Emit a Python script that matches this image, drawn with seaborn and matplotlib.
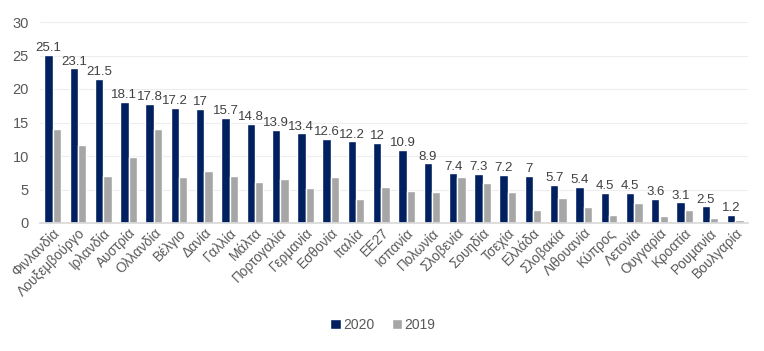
import matplotlib
matplotlib.use("Agg")
import matplotlib.pyplot as plt
import seaborn as sns
import pandas as pd

countries = ["Φινλανδία", "Λουξεμβούργο", "Ιρλανδία", "Αυστρία", "Ολλανδία", "Βέλγιο",
             "Δανία", "Γαλλία", "Μάλτα", "Πορτογαλία", "Γερμανία", "Εσθονία", "Ιταλία",
             "ΕΕ27", "Ισπανία", "Πολωνία", "Σλοβενία", "Σουηδία", "Τσεχία", "Ελλάδα",
             "Σλοβακία", "Λιθουανία", "Κύπρος", "Λετονία", "Ουγγαρία", "Κροατία",
             "Ρουμανία", "Βουλγαρία"]
values_2020 = [25.1, 23.1, 21.5, 18.1, 17.8, 17.2, 17, 15.7, 14.8, 13.9, 13.4, 12.6, 12.2,
               12, 10.9, 8.9, 7.4, 7.3, 7.2, 7, 5.7, 5.4, 4.5, 4.5, 3.6, 3.1, 2.5, 1.2]
values_2019 = [14.1, 11.6, 7.0, 9.9, 14.1, 6.9, 7.8, 7.0, 6.1, 6.5, 5.2, 6.8, 3.6,
               5.4, 4.8, 4.6, 6.8, 5.9, 4.6, 1.9, 3.7, 2.4, 1.25, 3.0, 1.1, 1.9, 0.75, 0.5]
series = ["2020", "2019"]
colors = ["#002060", "#A6A6A6"]
yticks = [0, 5, 10, 15, 20, 25, 30]

df = pd.DataFrame({
    "country": countries * 2,
    "value": values_2020 + values_2019,
    "year": [series[0]] * len(countries) + [series[1]] * len(countries),
})

sns.set_theme(style="white")
plt.rcParams["font.family"] = ["Liberation Sans", "DejaVu Sans"]

fig = plt.figure(figsize=(7.64, 3.51), dpi=100)
ax = fig.add_axes([40 / 764, 1 - 223 / 351, 708 / 764, 201 / 351])

sns.barplot(data=df, x="country", y="value", hue="year", hue_order=series,
            palette=colors, width=0.66, saturation=1, ax=ax, legend=True)

ax.bar_label(ax.containers[0], labels=[f"{v:g}" for v in values_2020],
             fontsize=9.5, color="#404040", padding=0.5)

ax.set_ylim(0, 30)
ax.set_yticks(yticks)
ax.set_yticklabels([str(t) for t in yticks], fontsize=10.5, color="#595959")
ax.set_xlim(-0.5, len(countries) - 0.5)
ax.set_xlabel("")
ax.set_ylabel("")
ax.yaxis.grid(True, color="#EDEDED", linewidth=0.8)
ax.set_axisbelow(True)
for s in ["top", "right", "left"]:
    ax.spines[s].set_visible(False)
ax.spines["bottom"].set_color("#D9D9D9")
ax.tick_params(axis="y", length=0, pad=8)
ax.tick_params(axis="x", length=0, pad=2)
plt.setp(ax.get_xticklabels(), rotation=45, ha="right", rotation_mode="anchor",
         fontsize=9.8, color="#595959")

handles, labels = ax.get_legend_handles_labels()
ax.legend(handles, labels, loc="center", bbox_to_anchor=(383 / 764, 1 - 325 / 351),
          bbox_transform=fig.transFigure, ncol=2, frameon=False, fontsize=10,
          handlelength=0.75, handleheight=0.75, handletextpad=0.2, columnspacing=1.2,
          labelcolor="#595959")

fig.savefig("out.png", dpi=100)
